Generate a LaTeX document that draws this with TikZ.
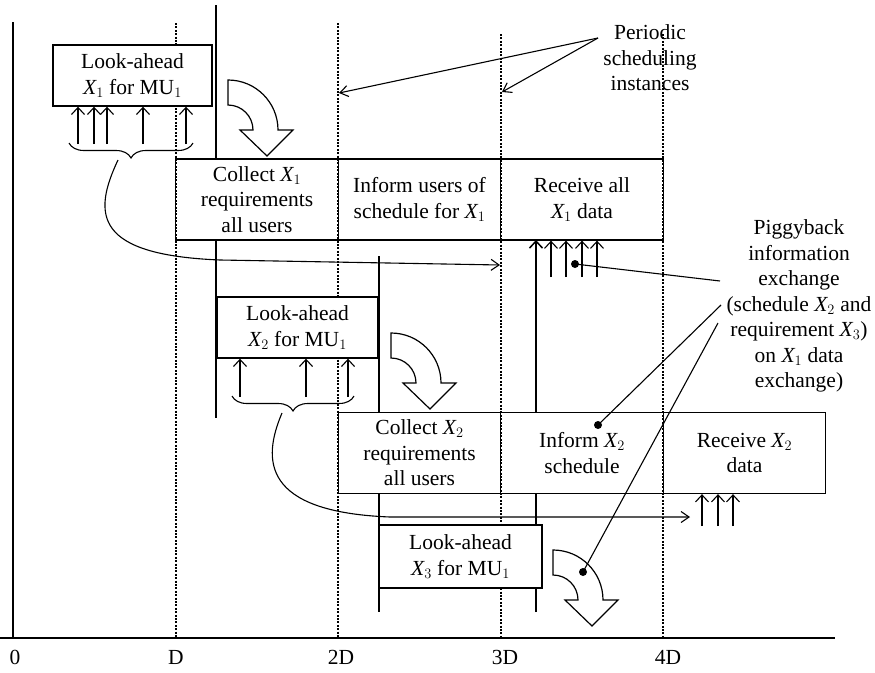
\documentclass[tikz,border=0pt]{standalone}
\usepackage{fontspec}
\setmainfont{Liberation Serif}
\usetikzlibrary{arrows.meta, decorations.pathreplacing}

\newcommand{\Xv}[1]{$\mathit{X}_{#1}$}
\newcommand{\MUone}{MU$_1$}
\newcommand{\bigfont}{\fontsize{21.5}{25.5}\selectfont}

\begin{document}
\begin{tikzpicture}[
  x=1pt, y=-1pt,
  labox/.style={rectangle, draw, fill=white, line width=1.4pt,
                minimum width=160pt, minimum height=61pt, align=center,
                inner sep=2pt, font=\bigfont},
  cellbox/.style={rectangle, draw, fill=white, line width=1.3pt,
                  minimum width=162.5pt, minimum height=81pt, align=center,
                  inner sep=2pt, font=\bigfont},
  txt/.style={align=center, inner sep=0pt, font=\bigfont},
  dotline/.style={line width=2.3pt, dash pattern=on 1.9pt off 1.5pt},
  tline/.style={line width=1.9pt},
  axisline/.style={line width=1.3pt},
  uparrow/.style={-{Straight Barb[length=7pt,width=13pt]}, line width=1.1pt},
  ptr/.style={-{Straight Barb[length=8pt,width=11pt]}, line width=1.1pt},
  brc/.style={decorate, decoration={brace, amplitude=15pt}, line width=1.1pt},
  dot/.style={circle, fill, inner sep=0pt, minimum size=8pt},
  fatarrow/.pic={
    \draw[line width=1.2pt, fill=white] (0,-50) -- (0,-25)
      arc[start angle=-90, end angle=0, radius=25] -- (12,0) -- (39,26)
      -- (65,0) -- (50,0) arc[start angle=0, end angle=-90, radius=50] -- cycle;
  }
]
\useasboundingbox (0,0) rectangle (875,672);

% Time axis
\draw[axisline] (13,22) -- (13,638);
\draw[axisline] (0,638) -- (835,638);
\node[txt] (t0) at (15,657) {0};
\node[txt] (t1) at (176,657) {D};
\node[txt] (t2) at (341,657) {2D};
\node[txt] (t3) at (505,657) {3D};
\node[txt] (t4) at (668,657) {4D};

% Solid markers (partly hidden by the cells)
\draw[tline] (216,5) -- (216,418);
\draw[tline] (379,256) -- (379,612);
\draw[uparrow, line width=1.5pt] (536,612) -- (536,240);

% Row 1: X1 cells
\node[cellbox] (cx1) at (257,199.5) {Collect \Xv{1}\\requirements\\all users};
\node[cellbox] (ix1) at (419.5,199.5) {Inform users of\\schedule for \Xv{1}};
\node[cellbox] (rx1) at (582,199.5) {Receive all\\\Xv{1} data};

% Row 2: X2 cells
\node[cellbox] (cx2) at (419.5,453) {Collect \Xv{2}\\requirements\\all users};
\node[cellbox] (ix2) at (582,453) {Inform \Xv{2}\\schedule};
\node[cellbox] (rx2) at (744.5,453) {Receive \Xv{2}\\data};

% Periodic scheduling instances
\draw[dotline] (176,23) -- (176,638);
\draw[dotline] (338,23) -- (338,638);
\draw[dotline] (501,34) -- (501,638);
\draw[dotline] (663,34) -- (663,638);

% Look-ahead boxes
\node[labox, minimum width=159pt] (la1) at (132.5,75.5) {Look-ahead\\\Xv{1} for \MUone};
\node[labox, minimum width=161pt] (la2) at (297.5,327.5) {Look-ahead\\\Xv{2} for \MUone};
\node[labox, minimum width=163pt, minimum height=63pt] (la3) at (460.5,556.5) {Look-ahead\\\Xv{3} for \MUone};

% Requirement arrows into the look-ahead boxes
\foreach \x in {78,94,107,143,186}
  \draw[uparrow] (\x,144) -- (\x,144 |- la1.south);
\foreach \x in {240,306,348}
  \draw[uparrow] (\x,397) -- (\x,397 |- la2.south);

% Data arrows under the receive cells
\foreach \x in {551,566,582,597}
  \draw[uparrow] (\x,277) -- (\x,277 |- rx1.south);
\foreach \x in {702,718,733}
  \draw[uparrow] (\x,526) -- (\x,526 |- rx2.south);

% Braces
\draw[brc] (193,143) -- (69,143);
\draw[brc] (354,396) -- (232,396);

% Curved arrows from braces
\coordinate (c1s) at (118,160);
\coordinate (c1e) at (500,265);
\coordinate (c2s) at (282,413);
\coordinate (c2e) at (690,517);
\draw[ptr] (c1s) .. controls (92,215) and (95,255) .. (220,260) -- (c1e);
\draw[ptr] (c2s) .. controls (262,460) and (262,512) .. (390,517) -- (c2e);

% Fat bent arrows
\pic at (228,130) {fatarrow};
\pic at (391,383) {fatarrow};
\pic at (553,600) {fatarrow};

% Labels on the right
\node[txt] (per) at (650,58) {Periodic\\scheduling\\instances};
\coordinate (perA) at (598,38);
\coordinate (tip2) at (339,93);
\coordinate (tip3) at (502,92);
\draw[ptr] (perA) -- (tip2);
\draw[ptr] (perA) -- (tip3);

\node[txt] (pig) at (799,306) {Piggyback\\information\\exchange\\(schedule \Xv{2} and\\requirement \Xv{3})\\on \Xv{1} data\\exchange)};
\coordinate (pgA) at (720,281);
\coordinate (pgB) at (721,305);
\coordinate (pgC) at (718,323);
\node[dot] (d1) at (575,264) {};
\node[dot] (d2) at (598,425) {};
\node[dot] (d3) at (583,572) {};
\draw[line width=1.1pt] (pgA) -- (d1.center);
\draw[line width=1.1pt] (pgB) -- (d2.center);
\draw[line width=1.1pt] (pgC) -- (d3.center);

\end{tikzpicture}
\end{document}
